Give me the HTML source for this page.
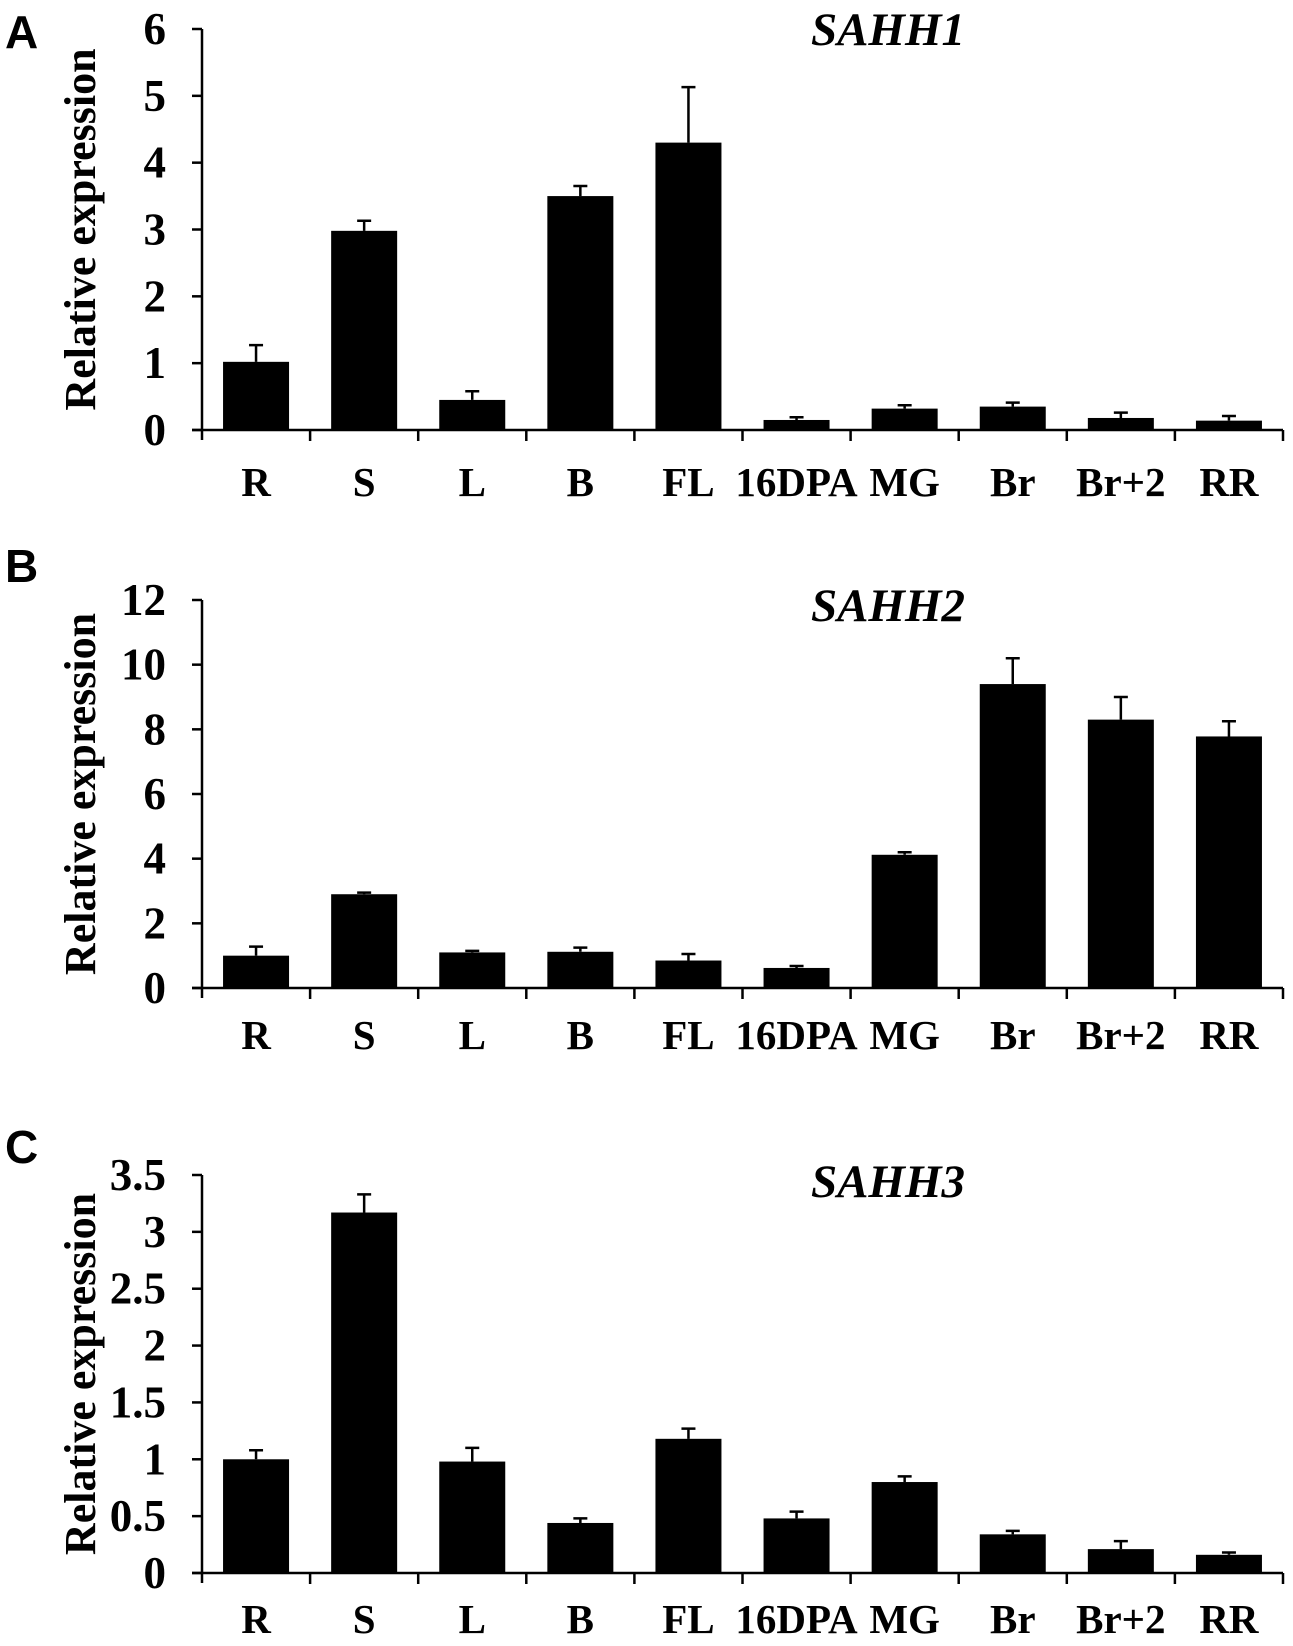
<!DOCTYPE html>
<html><head><meta charset="utf-8"><style>
html,body{margin:0;padding:0;background:#fff;}
svg{display:block;}
text{font-family:"Liberation Serif",serif;font-weight:bold;fill:#000;}
</style></head>
<body>
<svg id="fig" width="1293" height="1646" viewBox="0 0 1293 1646" xmlns="http://www.w3.org/2000/svg"></svg>
<script>
const categories = ["R","S","L","B","FL","16DPA","MG","Br","Br+2","RR"];
const sahh1Values = [1.02,2.98,0.45,3.5,4.3,0.15,0.32,0.35,0.18,0.14];
const sahh1ErrTop = [1.27,3.13,0.58,3.65,5.13,0.19,0.37,0.41,0.26,0.21];
const sahh2Values = [1.0,2.9,1.1,1.12,0.85,0.62,4.12,9.4,8.3,7.78];
const sahh2ErrTop = [1.28,2.95,1.15,1.25,1.05,0.68,4.2,10.2,9.0,8.25];
const sahh3Values = [1.0,3.17,0.98,0.44,1.18,0.48,0.8,0.34,0.21,0.16];
const sahh3ErrTop = [1.08,3.33,1.1,0.48,1.27,0.54,0.85,0.37,0.28,0.18];
const sahh1Ticks = ["0","1","2","3","4","5","6"];
const sahh2Ticks = ["0","2","4","6","8","10","12"];
const sahh3Ticks = ["0","0.5","1","1.5","2","2.5","3","3.5"];

const NS="http://www.w3.org/2000/svg";
const svg=document.getElementById('fig');
function mk(tag,attrs,parent){const e=document.createElementNS(NS,tag);for(const k in attrs)e.setAttribute(k,attrs[k]);(parent||svg).appendChild(e);return e;}

function panel(cfg){
  const g=mk('g',{});
  
  
  const x0=202,x1=1283,yTop=cfg.yTop,y0=cfg.y0;
  const maxV=parseFloat(cfg.ticks[cfg.ticks.length-1]);
  const yS=v=>y0-(v/maxV)*(y0-yTop);
  const slot=(x1-x0)/categories.length;
  const xC=i=>x0+slot*(i+0.5);
  const lt=mk('text',{x:5,y:cfg.letterY,'font-size':46,style:'font-family:"Liberation Sans",sans-serif;font-weight:bold'},g);
  lt.textContent=cfg.letter;
  
  
  const ti=mk('text',{x:888,y:cfg.titleY,'font-size':47,'font-style':'italic','text-anchor':'middle'},g);
  ti.textContent=cfg.title;
  
  
  const yt=mk('text',{x:0,y:0,'font-size':44,'text-anchor':'middle',transform:`translate(95,${(yTop+y0)/2}) rotate(-90)`},g);
  yt.textContent='Relative expression';
  
  
  categories.forEach((c,i)=>{
    const v=cfg.values[i],e=cfg.err[i];
    const r=mk('rect',{x:xC(i)-33,y:yS(v),width:66,height:y0-yS(v),fill:'#000'},g);
    
    
    const eb=mk('path',{d:`M${xC(i)} ${yS(v)}V${yS(e)}M${xC(i)-7} ${yS(e)}H${xC(i)+7}`,stroke:'#000','stroke-width':2.5,fill:'none'},g);
    
    
    const lb=mk('text',{x:xC(i),y:cfg.labelY,'font-size':41,'text-anchor':'middle'},g);
    lb.textContent=c;
    
    
  });
  const ax=mk('path',{d:`M${x0} ${yTop}V${y0+10}M${x0-10} ${y0}H${x1}`,stroke:'#000','stroke-width':2.5,fill:'none'},g);
  
  
  for(let i=1;i<=categories.length;i++){
    const tk=mk('line',{x1:x0+slot*i,x2:x0+slot*i,y1:y0,y2:y0+11,stroke:'#000','stroke-width':2.5},g);
    
    
  }
  cfg.ticks.forEach(t=>{
    const y=yS(parseFloat(t));
    const tk=mk('line',{x1:x0-10,x2:x0,y1:y,y2:y,stroke:'#000','stroke-width':2.5},g);
    
    
    const tl=mk('text',{x:166,y:y+15,'font-size':45,'text-anchor':'end'},g);
    tl.textContent=t;
    
    
  });
}
panel({letter:'A',letterY:48,title:'SAHH1',titleY:45,yTop:29,y0:430,labelY:496,values:sahh1Values,err:sahh1ErrTop,ticks:sahh1Ticks});
panel({letter:'B',letterY:582,title:'SAHH2',titleY:621,yTop:600,y0:988,labelY:1049,values:sahh2Values,err:sahh2ErrTop,ticks:sahh2Ticks});
panel({letter:'C',letterY:1163,title:'SAHH3',titleY:1197,yTop:1175,y0:1573,labelY:1633,values:sahh3Values,err:sahh3ErrTop,ticks:sahh3Ticks});
</script>
</body></html>
